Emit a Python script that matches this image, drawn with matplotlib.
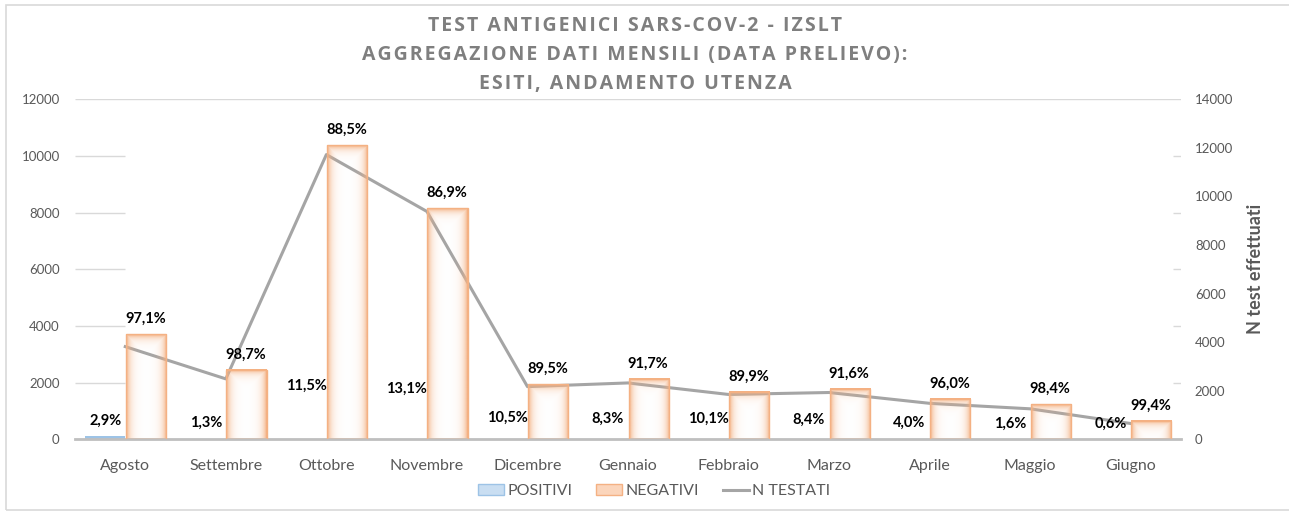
"""
Test antigenici SARS-CoV-2 - IZSLT: monthly positives / negatives and number
of tests (combo bar + line, secondary axis on the right).
"""

import numpy as np
import matplotlib

matplotlib.use("Agg")
import matplotlib.pyplot as plt
from matplotlib.patches import Patch, Rectangle
from matplotlib.lines import Line2D
from matplotlib.colors import to_rgb


# ----------------------------------------------------------------------
# Data
# ----------------------------------------------------------------------
months = ["Agosto", "Settembre", "Ottobre", "Novembre", "Dicembre", "Gennaio",
          "Febbraio", "Marzo", "Aprile", "Maggio", "Giugno"]
positivi = [110, 32, 1348, 1229, 228, 193, 187, 162, 59, 20, 4]
negativi = [3706, 2456, 10376, 8153, 1941, 2128, 1659, 1765, 1422, 1235, 646]
n_testati = [3816, 2488, 11724, 9382, 2169, 2321, 1846, 1927, 1481, 1255, 650]
pct_positivi = ["2,9%", "1,3%", "11,5%", "13,1%", "10,5%", "8,3%",
                "10,1%", "8,4%", "4,0%", "1,6%", "0,6%"]
pct_negativi = ["97,1%", "98,7%", "88,5%", "86,9%", "89,5%", "91,7%",
                "89,9%", "91,6%", "96,0%", "98,4%", "99,4%"]

TITLE_LINES = ["TEST ANTIGENICI SARS-COV-2 - IZSLT",
               "AGGREGAZIONE DATI MENSILI (DATA PRELIEVO):",
               "ESITI, ANDAMENTO UTENZA"]

BLUE = "#9dc3e6"
ORANGE = "#f4b183"
LINE_GRAY = "#a5a5a5"
TEXT_GRAY = "#595959"
GRID_GRAY = "#d9d9d9"

plt.rcParams["font.family"] = ["Lato", "DejaVu Sans"]


def gradient_bar(ax, x0, x1, h, color, px_per_unit, glow_px=4.0):
    """Bar with a white centre and a coloured glow along its sides and top."""
    if h <= 0:
        return
    nx = 41
    ny = max(int(h * px_per_unit), 2)
    dx = np.minimum(np.arange(nx), nx - 1 - np.arange(nx))[None, :]
    dy = np.arange(ny)[:, None]  # row 0 is the top of the bar
    d = np.minimum(dx, dy)
    img = np.ones((ny, nx, 4))
    img[..., :3] = to_rgb(color)
    img[..., 3] = np.exp(-d / glow_px)
    ax.imshow(img, extent=(x0, x1, 0, h), origin="upper", aspect="auto",
              interpolation="bilinear", zorder=2)
    ax.add_patch(Rectangle((x0, 0), x1 - x0, h, facecolor="none",
                           edgecolor=color, linewidth=1.0, zorder=3))


fig = plt.figure(figsize=(12.89, 5.12), dpi=100)

# outer chart-area border
fig.patches.append(Rectangle((0.005, 0.004), 1.2, 0.986, transform=fig.transFigure,
                             facecolor="none", edgecolor="#d9d9d9", linewidth=1.2))

ax = fig.add_axes([75 / 1289, 0.142, 1106 / 1289, 0.664])
ax2 = ax.twinx()
ax.set_zorder(ax2.get_zorder() + 1)
ax.patch.set_visible(False)

x = np.arange(len(months))
bar_w = 0.40
left_max = 12000
right_max = 14000
px_per_unit = (0.664 * 512) / left_max

# gridlines (only visible near the plot edges, as in the original)
for yv in range(2000, left_max, 2000):
    ax.hlines(yv, -0.5, 0, color=GRID_GRAY, linewidth=1, zorder=0)
    ax.hlines(yv, len(months) - 0.58, len(months) - 0.5, color=GRID_GRAY,
              linewidth=1, zorder=0)
ax.hlines(left_max, -0.5, len(months) - 0.5, color=GRID_GRAY, linewidth=1, zorder=0)

# POSITIVI (only the first bar has a visible fill in the original)
for i, v in enumerate(positivi):
    if i == 0:
        ax.bar(x[i] - bar_w / 2 - 0.005, v, width=bar_w, color=BLUE, zorder=2)

# NEGATIVI
for i, v in enumerate(negativi):
    gradient_bar(ax, x[i] + 0.005, x[i] + 0.005 + bar_w, v, ORANGE, px_per_unit)

# data labels
for i in range(len(months)):
    ax.annotate(pct_positivi[i], (x[i] - bar_w / 2, positivi[i]),
                xytext=(0, 11), textcoords="offset points", ha="center",
                va="center", fontsize=10.5, fontweight="bold", color="black",
                zorder=5)
    ax.annotate(pct_negativi[i], (x[i] + bar_w / 2, negativi[i]),
                xytext=(0, 11), textcoords="offset points", ha="center",
                va="center", fontsize=10.5, fontweight="bold", color="black",
                zorder=5)

# N TESTATI line on the secondary axis
ax2.plot(x, n_testati, color=LINE_GRAY, linewidth=2.2, zorder=4)

ax.set_xlim(-0.5, len(months) - 0.5)
ax.set_ylim(0, left_max)
ax2.set_ylim(0, right_max)

ax.set_yticks(np.arange(0, left_max + 1, 2000))
ax2.set_yticks(np.arange(0, right_max + 1, 2000))
ax.set_xticks(x)
ax.set_xticklabels(months)

for a in (ax, ax2):
    for s in a.spines.values():
        s.set_visible(False)
    a.tick_params(length=0, colors=TEXT_GRAY, labelsize=9.5)
ax.spines["bottom"].set_visible(True)
ax.spines["bottom"].set_color("#bfbfbf")
ax.spines["bottom"].set_linewidth(2)
ax.tick_params(axis="y", pad=11)
ax2.tick_params(axis="y", pad=10)
ax.tick_params(axis="x", labelsize=11.5, pad=14)

ax2.set_ylabel("N test effettuati", fontsize=13, fontweight="bold",
               color=TEXT_GRAY, labelpad=10)

# title: letter-spaced with hair spaces, one line at a time
for k, line in enumerate(TITLE_LINES):
    fig.text(635 / 1289, 1 - (26 + 29 * k) / 512, "\u200a".join(line),
             ha="center", va="center", fontsize=14, fontweight="bold",
             color="#7f7f7f", family=["Open Sans", "DejaVu Sans"])

handles = [
    Patch(facecolor="#c9def2", edgecolor=BLUE),
    Patch(facecolor="#fbd5bb", edgecolor=ORANGE),
    Line2D([0], [0], color=LINE_GRAY, linewidth=2.2),
]
fig.legend(handles, ["POSITIVI", "NEGATIVI", "N TESTATI"], loc="center left",
           bbox_to_anchor=(478 / 1289, 0.041), ncol=3, frameon=False,
           fontsize=11.5, labelcolor=TEXT_GRAY, borderpad=0, borderaxespad=0,
           handlelength=1.63, handleheight=0.75, handletextpad=0.2,
           columnspacing=1.5)

fig.savefig("out.png", dpi=100)
